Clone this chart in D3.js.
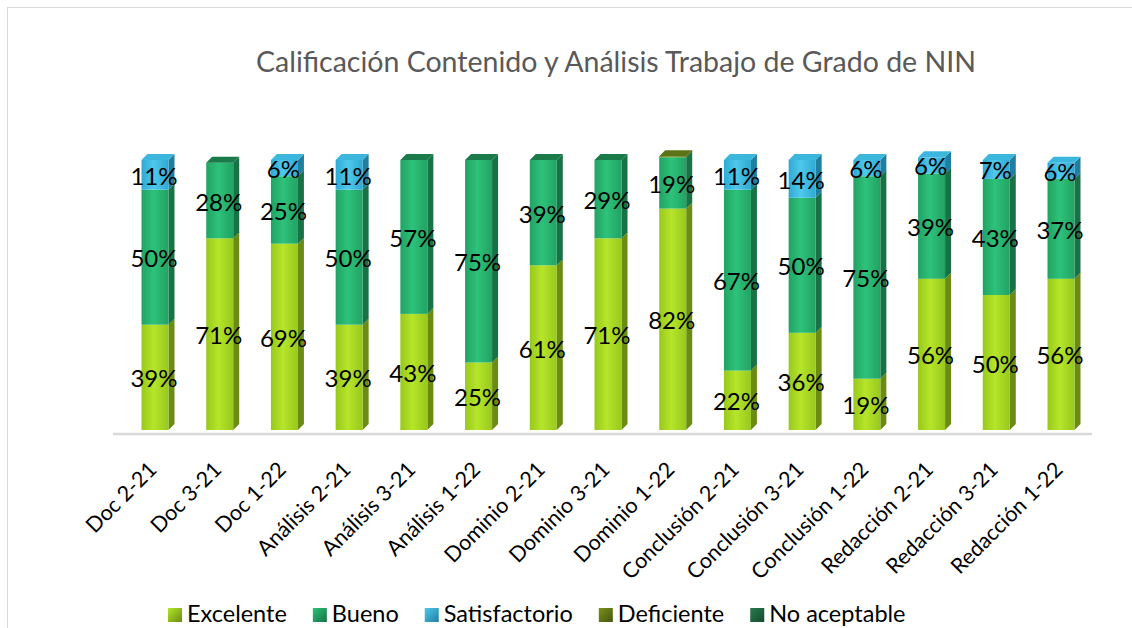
<!DOCTYPE html>
<html>
<head>
<meta charset="utf-8">
<script src="https://cdn.jsdelivr.net/npm/d3@7"></script>
<style>
  html, body { margin: 0; padding: 0; background: #fff; overflow: hidden; }
  svg { display: block; }
</style>
</head>
<body>
<svg id="chart" width="1132" height="628"></svg>
<script>
const categories = ["Doc 2-21","Doc 3-21","Doc 1-22","Análisis 2-21","Análisis 3-21","Análisis 1-22","Dominio 2-21","Dominio 3-21","Dominio 1-22","Conclusión 2-21","Conclusión 3-21","Conclusión 1-22","Redacción 2-21","Redacción 3-21","Redacción 1-22"];
const excelente     = [39,71,69,39,43,25,61,71,82,22,36,19,56,50,56];
const bueno         = [50,28,25,50,57,75,39,29,19,67,50,75,39,43,37];
const satisfactorio = [11,0,6,11,0,0,0,0,0,11,14,6,6,7,6];
const deficiente    = [0,0,0,0,0,0,0,0,0.4,0,0,0,0,0,0];
const noAceptable   = [0,0,0,0,0,0,0,0,0,0,0,0,0,0,0];
const seriesNames = ["Excelente","Bueno","Satisfactorio","Deficiente","No aceptable"];
const titleText = "Calificación Contenido y Análisis Trabajo de Grado de NIN";

const seriesValues = [excelente, bueno, satisfactorio, deficiente, noAceptable];
const palette = [
  {light:"#b6e52a", mid:"#98c81c", dark:"#6a8c12", cap:"#7fa815"},
  {light:"#2dc27a", mid:"#22a263", dark:"#177245", cap:"#1b7a49"},
  {light:"#4fc8ec", mid:"#2fa9d2", dark:"#1f7fa0", cap:"#3bb7dd"},
  {light:"#7b921f", mid:"#627a15", dark:"#44560c", cap:"#5c7417"},
  {light:"#2a7a4e", mid:"#1f6540", dark:"#144a2d", cap:"#1b5a38"}
];
const FONT = "Lato, 'Open Sans', sans-serif";

const svg = d3.select("#chart");
const defs = svg.append("defs");
palette.forEach((p, i) => {
  const g = defs.append("linearGradient").attr("id", "front" + i)
    .attr("x1", "0").attr("x2", "1").attr("y1", "0").attr("y2", "0");
  g.append("stop").attr("offset", "0").attr("stop-color", p.mid);
  g.append("stop").attr("offset", "0.45").attr("stop-color", p.light);
  g.append("stop").attr("offset", "1").attr("stop-color", p.mid);
  const l = defs.append("linearGradient").attr("id", "leg" + i)
    .attr("x1", "0").attr("x2", "1").attr("y1", "0").attr("y2", "1");
  l.append("stop").attr("offset", "0").attr("stop-color", p.light);
  l.append("stop").attr("offset", "1").attr("stop-color", p.dark);
});

// frame
svg.append("rect").attr("x", 7.5).attr("y", 7.5).attr("width", 1140).attr("height", 640)
  .attr("fill", "none").attr("stroke", "#d9d9d9").attr("stroke-width", 1);

// title
svg.append("text").attr("x", 616).attr("y", 72).attr("text-anchor", "middle")
  .attr("font-family", FONT).attr("font-size", 28.5)
  .attr("fill", "#595959").text(titleText);

const x = d3.scalePoint().domain(categories).range([155, 1061]);
const y = d3.scaleLinear().domain([0, 100]).range([430, 160]);
const W = 27, DX = 6, DY = 6;

// floor / axis line
svg.append("line").attr("x1", 113).attr("x2", 1092).attr("y1", 434).attr("y2", 434)
  .attr("stroke", "#d9d9d9").attr("stroke-width", 2.5);

const stackData = categories.map((c, i) => {
  let acc = 0;
  const segs = seriesValues.map((arr, s) => {
    const v = arr[i]; const seg = {s, v, y0: acc, y1: acc + v}; acc += v; return seg;
  }).filter(d => d.v > 0);
  return {cat: c, segs, total: acc};
});

const bars = svg.append("g").selectAll("g").data(stackData).join("g");
bars.each(function(d) {
  const g = d3.select(this);
  const cx = x(d.cat);
  const x0 = cx - W / 2;
  d.segs.forEach(seg => {
    const yTop = y(seg.y1), yBot = y(seg.y0);
    const p = palette[seg.s];
    g.append("path")
      .attr("d", `M${x0 + W},${yBot} L${x0 + W + DX},${yBot - DY} L${x0 + W + DX},${yTop - DY} L${x0 + W},${yTop} Z`)
      .attr("fill", p.dark);
    g.append("rect").attr("x", x0).attr("y", yTop).attr("width", W).attr("height", yBot - yTop)
      .attr("fill", `url(#front${seg.s})`);
  });
  const top = d.segs[d.segs.length - 1];
  const yT = y(d.total);
  g.append("path")
    .attr("d", `M${x0},${yT} L${x0 + DX},${yT - DY} L${x0 + W + DX},${yT - DY} L${x0 + W},${yT} Z`)
    .attr("fill", palette[top.s].cap);
  d.segs.filter(seg => seg.v >= 1).forEach(seg => {
    g.append("text").attr("x", cx - 1).attr("y", (y(seg.y0) + y(seg.y1)) / 2 + 10)
      .attr("text-anchor", "middle")
      .attr("font-family", FONT).attr("font-size", 24)
      .attr("fill", "#000").text(Math.round(seg.v) + "%");
  });
});

// category labels
svg.append("g").selectAll("text").data(categories).join("text")
  .attr("transform", d => `translate(${x(d) + 3},${471}) rotate(-45)`)
  .attr("text-anchor", "end")
  .attr("font-family", FONT).attr("font-size", 21.5)
  .attr("fill", "#000").text(d => d);

// legend
const leg = svg.append("g");
let lx = 168;
seriesNames.forEach((n, i) => {
  leg.append("rect").attr("x", lx).attr("y", 608).attr("width", 14).attr("height", 14)
    .attr("fill", `url(#leg${i})`);
  const t = leg.append("text").attr("x", lx + 19).attr("y", 622)
    .attr("font-family", FONT).attr("font-size", 23.5)
    .attr("fill", "#000").text(n);
  lx += 19 + t.node().getComputedTextLength() + 26;
});
</script>
</body>
</html>
